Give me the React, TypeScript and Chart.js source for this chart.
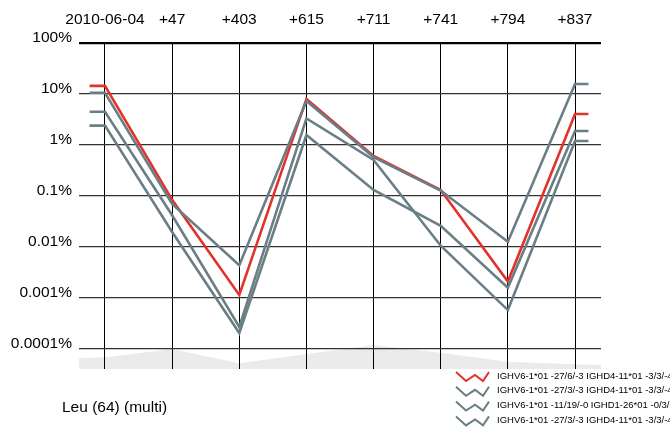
import React, { useEffect, useRef } from "react";
import { Chart, registerables } from "chart.js";

Chart.register(...registerables);

// ---- data ----
const categories = ["2010-06-04", "+47", "+403", "+615", "+711", "+741", "+794", "+837"];
const yTickValues = [100, 10, 1, 0.1, 0.01, 0.001, 0.0001];
const yTickLabels = ["100%", "10%", "1%", "0.1%", "0.01%", "0.001%", "0.0001%"];

const seriesRed = [14.4, 0.084, 0.00115, 8.0, 0.61, 0.131, 0.0021, 4.05];
const seriesGrayA = [10.6, 0.07, 0.0044, 7.3, 0.58, 0.128, 0.0127, 15.7];
const seriesGrayB = [4.5, 0.042, 0.00027, 3.33, 0.51, 0.0106, 0.00058, 1.2];
const seriesGrayC = [2.4, 0.0197, 0.000206, 1.57, 0.131, 0.026, 0.00159, 1.88];

const legendLabels = [
  "IGHV6-1*01 -27/6/-3 IGHD4-11*01 -3/3/-4",
  "IGHV6-1*01 -27/3/-3 IGHD4-11*01 -3/3/-4",
  "IGHV6-1*01 -11/19/-0 IGHD1-26*01 -0/3/-4",
  "IGHV6-1*01 -27/3/-3 IGHD4-11*01 -3/3/-4",
];

// relative sample coverage (grey band under the plot)
const coverage = [11.7, 20, 5.7, 15, 24, 16.3, 7.3, 4.7];
const coverageEdges = [11, 4];

const footnote = "Leu (64) (multi)";

// ---- style ----
const RED = "#e3322b";
const GRAY = "#6a7e86";
const FONT = '"Liberation Sans", Arial, Helvetica, sans-serif';
const X_MIN = -0.387;
const X_MAX = 7.387;
const STUB_L = -0.23;
const STUB_R = 7.2;

function toPoints(values: number[]) {
  const pts = values.map((y, i) => ({ x: i, y }));
  return [{ x: STUB_L, y: values[0] }, ...pts, { x: STUB_R, y: values[values.length - 1] }];
}

const overlayPlugin = {
  id: "overlay",
  afterDraw(chart: any) {
    const ctx = chart.ctx as CanvasRenderingContext2D;
    ctx.save();
    // footnote
    ctx.font = `15.5px ${FONT}`;
    ctx.fillStyle = "#000";
    ctx.textAlign = "left";
    ctx.textBaseline = "middle";
    ctx.fillText(footnote, 62, 408);
    // legend
    const colors = [RED, GRAY, GRAY, GRAY];
    legendLabels.forEach((label, i) => {
      const cy = 376 + i * 14.8;
      ctx.strokeStyle = colors[i];
      ctx.lineWidth = 2;
      ctx.lineJoin = "miter";
      ctx.beginPath();
      const xs = [456, 466, 475, 483, 489];
      const ys = [-4, 5, -1, 5, -4];
      xs.forEach((x, k) => {
        if (k === 0) ctx.moveTo(x, cy + ys[k]);
        else ctx.lineTo(x, cy + ys[k]);
      });
      ctx.stroke();
      ctx.font = `9.5px ${FONT}`;
      ctx.fillStyle = "#000";
      ctx.fillText(label, 497, cy);
    });
    ctx.restore();
  },
};

export default function App() {
  const ref = useRef<HTMLCanvasElement | null>(null);

  useEffect(() => {
    if (!ref.current) return;
    const lineDs = (label: string, values: number[], color: string, order: number) => ({
      label,
      data: toPoints(values),
      borderColor: color,
      backgroundColor: color,
      borderWidth: 2.6,
      pointRadius: 0,
      tension: 0,
      fill: false,
      borderJoinStyle: "miter" as const,
      borderCapStyle: "butt" as const,
      yAxisID: "y",
      order,
    });
    const bandData = [
      { x: X_MIN, y: coverageEdges[0] },
      ...coverage.map((y, i) => ({ x: i, y })),
      { x: X_MAX, y: coverageEdges[1] },
    ];
    const chart = new Chart(ref.current, {
      type: "line",
      data: {
        datasets: [
          {
            label: "coverage",
            data: bandData,
            yAxisID: "y2",
            borderWidth: 0,
            borderColor: "rgba(0,0,0,0)",
            backgroundColor: "rgba(0,0,0,0.078)",
            fill: "origin",
            pointRadius: 0,
            tension: 0,
            order: 10,
          } as any,
          lineDs(legendLabels[0], seriesRed, RED, 5),
          lineDs(legendLabels[1], seriesGrayA, GRAY, 3),
          lineDs(legendLabels[2], seriesGrayB, GRAY, 2),
          lineDs(legendLabels[3], seriesGrayC, GRAY, 1),
        ],
      },
      options: {
        animation: false,
        responsive: false,
        maintainAspectRatio: false,
        layout: { padding: { left: 0, top: 0, right: 69, bottom: 63 } },
        plugins: { legend: { display: false }, tooltip: { enabled: false } },
        scales: {
          x: {
            type: "linear",
            position: "top",
            min: X_MIN,
            max: X_MAX,
            afterBuildTicks: (s: any) => {
              s.ticks = categories.map((_, i) => ({ value: i }));
            },
            afterFit: (s: any) => {
              s.height = 43;
            },
            ticks: {
              callback: (v: any) => categories[Math.round(Number(v))] ?? "",
              font: { family: FONT, size: 15.5 },
              color: "#000",
              padding: 14,
              maxRotation: 0,
              autoSkip: false,
            },
            grid: { color: "#000", lineWidth: 1, drawTicks: false },
            border: { display: false },
          },
          y: {
            type: "logarithmic",
            min: Math.pow(10, 2 - 326 / 51),
            max: 100,
            afterBuildTicks: (s: any) => {
              s.ticks = yTickValues.map((v) => ({ value: v }));
            },
            afterFit: (s: any) => {
              s.width = 79;
            },
            ticks: {
              callback: (v: any) => {
                const idx = yTickValues.findIndex((t) => Math.abs(Math.log10(t) - Math.log10(Number(v))) < 1e-6);
                return idx >= 0 ? yTickLabels[idx] : "";
              },
              font: { family: FONT, size: 15.5 },
              color: "#000",
              padding: 7,
              labelOffset: -5,
              autoSkip: false,
            },
            grid: {
              color: (c: any) => (c.tick && c.tick.value === 100 ? "#000" : "#333"),
              lineWidth: (c: any) => (c.tick && c.tick.value === 100 ? 2.2 : 1.2),
              drawTicks: false,
            },
            border: { display: false },
          },
          y2: {
            type: "linear",
            display: false,
            min: 0,
            max: 326,
          },
        },
      } as any,
      plugins: [overlayPlugin],
    });
    return () => chart.destroy();
  }, []);

  return (
    <div style={{ position: "absolute", left: 0, top: 0, width: 670, height: 432, background: "#fff" }}>
      <canvas ref={ref} width={670} height={432} style={{ display: "block", width: 670, height: 432 }} />
    </div>
  );
}
